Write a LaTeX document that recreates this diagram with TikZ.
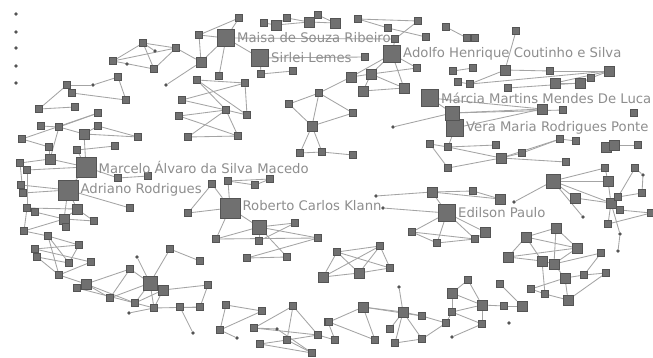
\documentclass[tikz,border=0pt]{standalone}
\usepackage{fontspec}
\newfontfamily\lblfont{DejaVu Sans}
\usetikzlibrary{positioning,backgrounds}
\definecolor{nodegray}{HTML}{707070}
\definecolor{nodeline}{HTML}{545454}
\definecolor{linkgray}{HTML}{A4A4A4}
\definecolor{textgray}{HTML}{8E8E8E}
\tikzstyle{sq}=[rectangle, draw=nodeline, fill=nodegray, line width=0.3pt, minimum size=0.18cm, inner sep=0pt]
\tikzstyle{md}=[sq, minimum size=0.25cm]
\tikzstyle{lsq}=[sq, minimum size=0.34cm]
\tikzstyle{hub}=[sq, minimum size=0.43cm]
\tikzstyle{bhub}=[sq, minimum size=0.5cm]
\tikzstyle{dt}=[circle, fill=nodeline, minimum size=0.09cm, inner sep=0pt]
\tikzstyle{lnk}=[draw=linkgray, line width=0.6pt]
\tikzstyle{lbl}=[font=\lblfont\fontsize{9.4}{10}\selectfont, text=textgray, inner sep=0pt]
\begin{document}
\begin{tikzpicture}[x=0.025cm, y=-0.025cm]
\useasboundingbox (0,0) rectangle (653,357);
% hubs
\foreach \n/\x/\y in {m0/226/38, m5/260/58, d0/392/54, c0/430/98, c3/455/128, e0/447/213}
  \node[hub] (\n) at (\x,\y) {};
\foreach \n/\x/\y in {l0/86/167, r0/68/190, k0/230/208}
  \node[bhub] (\n) at (\x,\y) {};
\foreach \n/\x/\y in {h0/150/283, z0/553/181, c1/452/113, k6/259/227}
  \node[lsq] (\n) at (\x,\y) {};
% medium squares
\foreach \n/\x/\y in {m3/201/62, t2/276/25, t4/309/22, t6/335/23, d3/371/74, d4/351/77, d5/363/91, d6/404/88,
  c4/542/109, c6/505/70, c8/609/71, c9/555/83, c10/580/83, v5/501/158, v10/606/147, v11/614/145,
  p0/312/126, l5/84/134, l11/50/159, r5/77/209, r6/64/219, s8/86/284, h4/163/290,
  w4/359/273, w5/323/277, x2/363/307, x4/403/312, e1/432/192, e3/500/199, e9/485/232,
  y2/452/293, y4/482/305, y9/522/306, z3/608/181, z4/575/198, z5/611/203,
  f1/556/228, f2/526/237, f3/577/248, f4/508/257, f5/542/261, f6/554/264, f8/565/278, f13/568/300}
  \node[md] (\n) at (\x,\y) {};
% small squares
\foreach \n/\x/\y in {a1/143/43, a3/113/61, a5/154/69, a6/118/77, a8/67/85, a9/72/93, a10/126/100,
  a11/39/109, a12/75/107, a13/176/48, m1/239/18, m2/199/35, m4/219/76, m6/261/74, m7/293/71,
  t1/264/23, t3/287/18, t5/318/15, t7/358/19, t8/418/21, t9/388/28, t10/426/37, t11/395/39,
  d1/365/57, d2/417/68, c5/563/110, c7/550/71, c11/591/78, c12/508/88, c13/453/71, c14/473/68,
  c15/458/82, c16/470/84, c17/516/31, c18/446/27, c19/467/38, c20/475/38, c21/634/113,
  v1/430/144, v2/448/147, v3/448/168, v4/496/145, v6/522/153, v7/560/139, v8/576/141, v9/566/162,
  v12/638/145, p1/289/104, p2/319/93, p3/300/153, p4/322/152, p5/353/113, p6/353/155,
  g1/197/80, g2/245/83, g3/182/100, g4/226/110, g5/247/115, g6/179/116, g7/188/137, g8/238/136,
  l1/98/113, l2/41/126, l3/59/127, l4/98/126, l6/138/137, l7/22/139, l8/49/147, l9/77/150,
  l10/115/146, l12/20/163, l13/27/170, r1/21/185, r2/23/193, r3/27/208, r4/35/212, r7/66/227,
  r8/94/221, r9/24/231, r10/130/208, r11/118/178, r12/148/176,
  s1/48/236, s2/79/245, s3/35/249, s4/37/257, s5/69/263, s6/91/262, s7/59/275, s9/77/288,
  h1/130/269, h3/170/249, h5/110/298, h6/135/303, h7/154/308, h10/200/261, h11/208/285,
  h12/180/307, h13/200/307, q1/226/305, q2/262/311, q3/220/330,
  u1/293/306, u2/254/328, u4/260/344, u5/287/340, u6/318/335, u7/312/353, u8/328/322, u9/335/340,
  k1/212/184, k2/228/181, k3/255/185, k4/270/179, k5/188/213, k7/295/223, k8/216/239, k9/259/241,
  k10/318/238, k11/247/258, k12/287/257, w1/337/252, w2/380/246, w3/390/268,
  x3/329/322, x5/422/316, x6/390/329, x7/375/340, x8/395/343, x9/422/339, x10/446/323,
  e2/473/191, e6/412/232, e7/437/243, e8/475/239, y1/468/280, y3/452/312, y5/482/324,
  y7/500/284, y8/504/306, z2/605/168, z6/618/197, z7/620/210, z8/642/193, z9/651/213,
  z11/608/224, z14/635/168, f7/601/253, f9/584/275, f10/606/273, f11/531/289, f12/545/294}
  \node[sq] (\n) at (\x,\y) {};
% dots
\foreach \n/\x/\y in {i1/16/14, i2/16/32, i3/16/48, i4/16/66, i5/16/83, a2/155/51, a4/127/64, a7/93/85,
  m8/166/85, c2/393/127, h2/137/257, h8/129/313, q4/193/333, q5/237/338, u3/277/329,
  x1/399/287, e4/376/196, e5/383/208, e10/514/202, y6/452/337, y10/509/323,
  z10/583/217, z12/620/234, z13/618/251, z15/643/175}
  \node[dt] (\n) at (\x,\y) {};
% names
\node[lbl, right=1.5pt of m0] (maisa) {Maisa de Souza Ribeiro};
\node[lbl, right=1.5pt of m5] (sirlei) {Sirlei Lemes};
\node[lbl, right=1.5pt of d0] (adolfo) {Adolfo Henrique Coutinho e Silva};
\node[lbl, right=1.5pt of c0] (marcia) {Márcia Martins Mendes De Luca};
\node[lbl, right=1.5pt of c3] (vera) {Vera Maria Rodrigues Ponte};
\node[lbl, right=1.5pt of l0] (marcelo) {Marcelo Álvaro da Silva Macedo};
\node[lbl, right=1.5pt of r0] (adriano) {Adriano Rodrigues};
\node[lbl, right=1.5pt of k0, yshift=1.5pt] (roberto) {Roberto Carlos Klann};
\node[lbl, right=1.5pt of e0] (edilson) {Edilson Paulo};
\begin{scope}[on background layer]
\fill[white] (0,0) rectangle (653,357);
\foreach \a/\b in {a1/a3, a1/a5, a1/a13, a1/a2, a3/a13, a3/a5, a5/a13, a6/a7, a7/a8, a6/a10, a9/a10,
  a8/a9, a11/a12, a8/a11, a13/m3,
  m0/m1, m2/m1, m0/m2, m0/m3, m2/m3, m0/m4, m0/m5, m5/m6, m6/m7, m3/m8, m0/t11, m5/d1,
  t1/t2, t2/t3, t2/t4, t3/t4, t4/t5, t4/t6, t5/t6, t7/t8, t7/t9, t9/t10, t8/t11,
  d0/t11, d0/d3, d0/d2, d0/d6, d0/d4, d3/d4, d3/d5, d3/d2, d5/d6, d3/d6, d4/p2,
  c0/c1, c1/c2, c1/c4, c0/c4, c3/c4, c1/c5, c13/c14, c15/c16, c16/c6, c16/c8, c6/c7, c7/c8,
  c9/c10, c10/c11, c11/c8, c9/c8, c12/c10, c18/c19, c19/c20, c17/c6,
  c3/v2, v1/v2, v1/v3, v2/v5, v2/v4, v3/v5, v5/v6, v6/v7, v5/v7, v5/v9, v7/v8, v10/v11, v11/v12,
  p0/p1, p0/p2, p1/p2, p0/p3, p0/p4, p3/p4, p0/p5, p2/p5, p4/p6,
  g1/g2, g1/g4, g1/g5, g3/g2, g3/g4, g2/g5, g6/g4, g6/g8, g7/g4, g7/g8, g4/g8, g4/g5,
  l1/l3, l2/l3, l7/l1, l3/l5, l5/l4, l5/l6, l4/l6, l3/l11, l9/l10, l5/l0, l11/l0, l12/l11,
  l13/l0, l8/l11, l7/l8, l9/l0,
  r0/l0, r0/r1, r0/r2, r0/r5, r0/r6, r0/r10, r1/r2, r2/l12, r3/r4, r4/r6, r5/r6, r6/r7, r6/r8,
  r5/r8, r9/r6, r9/r3, l0/r11, r11/r12, l13/r3, r3/r5,
  s1/s2, s1/s5, s3/s2, s3/s6, s4/s5, s4/s7, s5/s2, s6/s7, s7/s8, s8/s9, r9/s1, s1/s7,
  h0/h1, h0/h2, h0/h3, h0/h4, h0/h5, h0/h6, h0/h7, h1/h5, h1/s8, h6/s8, s8/h5, h6/h4, h7/h4,
  h3/h10, h4/h11, h8/h7, h12/h13, h13/h11, h7/h13, s9/h6, h6/h7,
  q1/q3, q2/q3, q1/q2, h12/q4, q3/q5,
  u1/u2, u1/u5, u1/u6, u2/u3, u2/u6, u4/u5, u4/u7, u5/u6, u5/u7, u6/u9, u8/u9, u3/u7,
  k0/k1, k0/k2, k2/k3, k2/k4, k3/k4, k1/k5, k0/k5, k0/k6, k0/k8, k6/k7, k6/k9, k6/k8, k8/k10,
  k6/k10, k11/k12, k11/k10, k6/k12, k7/k9,
  w1/w2, w1/w4, w1/w5, w1/w3, w2/w4, w2/w3, w4/w3, w5/w4, w5/w2,
  x1/x4, x2/x3, x2/x4, x2/x7, x3/x7, x4/x5, x4/x6, x4/x8, x4/x9, x5/x10, x9/x10, x8/x9, x2/x5,
  e0/e1, e1/e2, e2/e3, e1/e3, e4/e1, e5/e0, e0/e6, e0/e7, e0/e8, e0/e9, e6/e7, e6/e8, e7/e8,
  e8/e9, e10/z0,
  y1/y2, y1/y4, y2/y4, y2/y3, y3/y4, y4/y5, y3/y5, y6/y5, y7/y9, y8/y9, y4/y8, x10/y3,
  z0/z2, z0/z3, z0/z4, z0/z5, z0/z10, z4/z5, z2/z3, z3/z5, z5/z6, z5/z7, z6/z8, z6/z14,
  z14/z15, z7/z9, z11/z9, z5/z12, z12/z13, z8/z15, z5/z11,
  f1/f2, f1/f3, f1/f6, f2/f3, f2/f4, f2/f5, f4/f5, f4/f3, f5/f6, f6/f3, f6/f7, f5/f12, f8/f9,
  f9/f10, f8/f11, f8/f13, f11/f12, f12/f13, f13/f10, f7/f9, f6/f8}
  \draw[lnk] (\a) -- (\b);
\end{scope}
\end{tikzpicture}
\end{document}
